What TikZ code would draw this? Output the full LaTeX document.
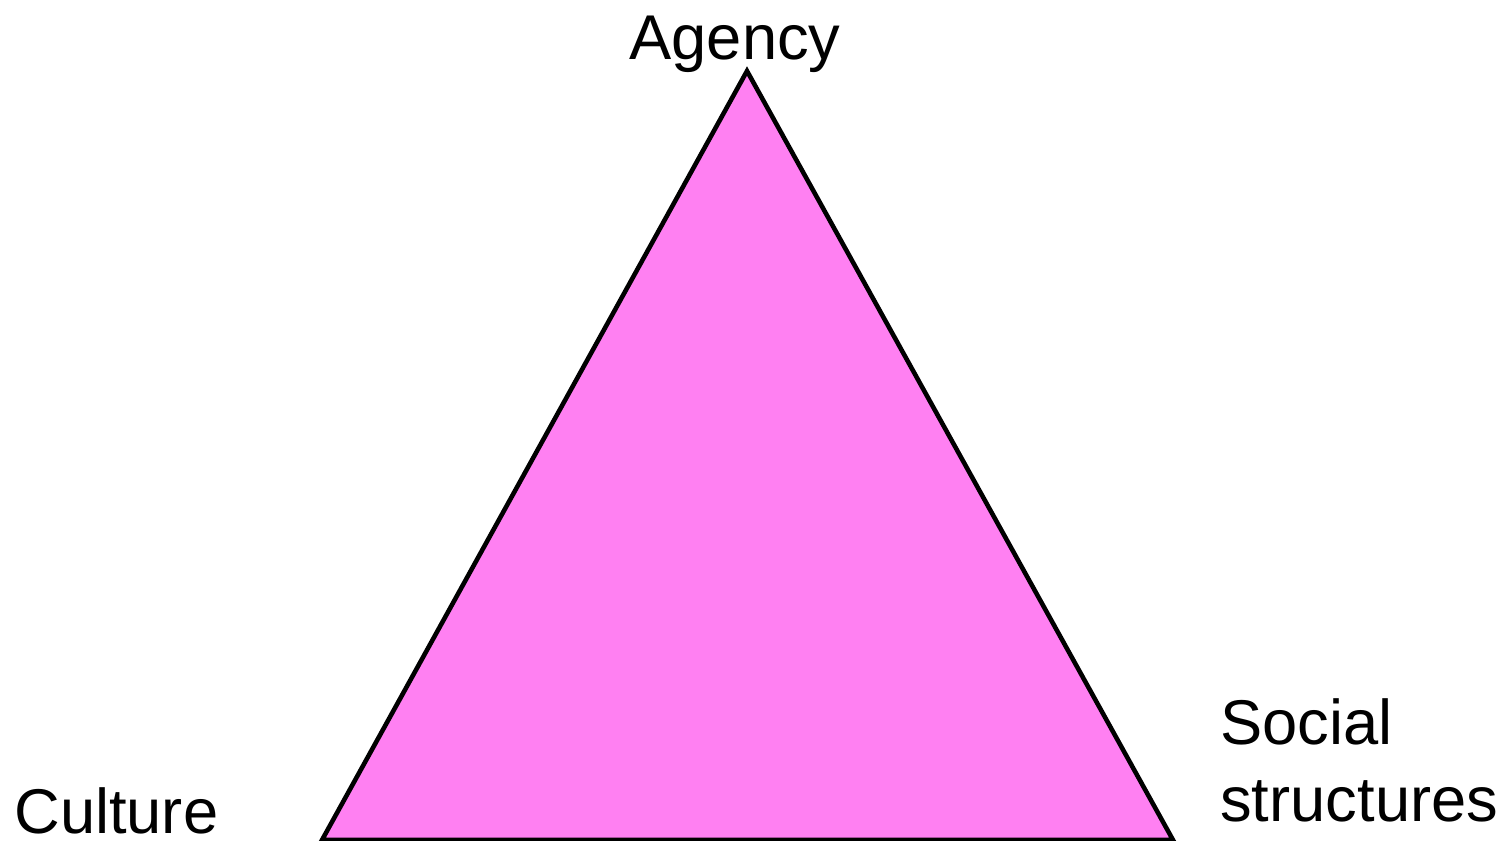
\documentclass[tikz,border=0pt]{standalone}
\usepackage{fontspec}
\setmainfont{Liberation Sans}
\usepackage{xcolor}
\usepackage{tikz}
\usetikzlibrary{positioning}

\definecolor{trifill}{RGB}{255,128,242}

\begin{document}
\begin{tikzpicture}[x=0.02cm, y=0.02cm,
    label/.style={inner sep=0pt, font=\fontsize{36}{44}\selectfont, align=left}]

    % ==========================================
    % Frame
    % ==========================================
    \useasboundingbox (0,0) rectangle (1510,841);

    % ==========================================
    % Triangle
    % ==========================================
    \coordinate (Top) at (747, 770);
    \coordinate (BL) at (322, 1);
    \coordinate (BR) at (1173, 1);
    \draw[fill=trifill, line width=2.6pt, line join=miter] (Top) -- (BL) -- (BR) -- cycle;

    % ==========================================
    % Labels
    % ==========================================
    \node[label, anchor=base] (agency) at (735, 781) {Agency};
    \node[label, anchor=base west] (culture) at (14, 7) {Culture};
    \node[label, anchor=base west] (social) at (1220, 19) {Social\\structures};

\end{tikzpicture}
\end{document}
